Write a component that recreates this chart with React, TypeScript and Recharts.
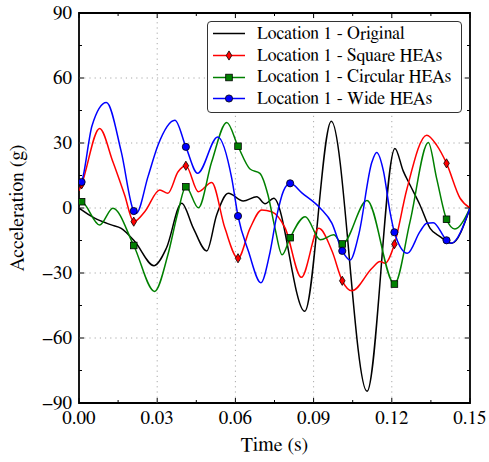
import React from "react";
import { LineChart, Line, XAxis, YAxis, ReferenceLine, ReferenceArea, Legend } from "recharts";

const FONT = "FreeSerif, 'Nimbus Roman', 'Noto Serif', 'Times New Roman', 'Liberation Serif', serif";
const TICK_SIZE = 19;
const LABEL_SIZE = 20;

// layout of the plot box (px)
const PLOT_TOP = 13;
const PLOT_BOTTOM = 403;
const PLOT_LEFT = 79;
const PLOT_RIGHT = 470;

const xTicks = [0, 0.015, 0.03, 0.045, 0.06, 0.075, 0.09, 0.105, 0.12, 0.135, 0.15];
const yTicks = [-90, -75, -60, -45, -30, -15, 0, 15, 30, 45, 60, 75, 90];
const xGrid = [0.03, 0.06, 0.09, 0.12];
const yGrid = [-60, -30, 0, 30, 60];

// times where the markers sit
const markerTimes = [0.001, 0.021, 0.041, 0.061, 0.081, 0.101, 0.121, 0.141];

const originalTime = [0, 0.001, 0.006, 0.0124, 0.0162, 0.0214, 0.0288, 0.0335, 0.0394, 0.0439, 0.049, 0.0528, 0.0573, 0.063, 0.0682, 0.0714, 0.0747, 0.0866, 0.0968, 0.1105, 0.1212, 0.1244, 0.127, 0.1308, 0.1347, 0.1385, 0.143, 0.15];
const originalAccel = [0, -0.9, -4.7, -7.8, -9.4, -15.5, -26.6, -18.6, 2.2, -9.4, -19.8, -3.2, 6.8, 3.2, 5.2, 2, 4.5, -47.7, 40, -84.6, 27.5, 17, 10.6, 1.4, -9.4, -13.2, -16.3, 0];

const squareTime = [0, 0.001, 0.0079, 0.013, 0.0175, 0.021, 0.0252, 0.031, 0.0341, 0.038, 0.041, 0.0458, 0.0509, 0.056, 0.061, 0.0656, 0.0701, 0.0739, 0.0791, 0.0853, 0.092, 0.0971, 0.101, 0.1047, 0.1124, 0.1155, 0.1174, 0.121, 0.1257, 0.1334, 0.1372, 0.141, 0.1462, 0.15];
const squareAccel = [8, 10.9, 36.7, 21.3, 6, -6.3, -1.7, 8.3, 6.8, 16.7, 19.5, 7.5, 11.8, -9.4, -23.2, -9.4, -0.9, -1.7, -9.3, -32, -9.4, -20, -33.6, -38.2, -27.8, -24.7, -25.5, -16.7, 8.3, 33.6, 29, 20.6, 4.5, 0];

const circularTime = [0, 0.001, 0.0079, 0.013, 0.021, 0.029, 0.0341, 0.038, 0.041, 0.0458, 0.0509, 0.0567, 0.061, 0.0656, 0.0694, 0.0725, 0.0752, 0.0779, 0.081, 0.0868, 0.0926, 0.0977, 0.101, 0.1105, 0.121, 0.127, 0.134, 0.1372, 0.141, 0.1442, 0.15];
const circularAccel = [3, 2.9, -7.8, -0.1, -17.3, -38.5, -21.6, -1.7, 9.8, 0.1, 21.3, 39.5, 28.5, 18, 16, 6, -9.4, -21.6, -13.7, -4, -14.7, -12.4, -16.6, 3.5, -35.1, -6.3, 30.2, 13.7, -5.2, -9.7, 0];

const wideTime = [0, 0.001, 0.005, 0.0105, 0.0162, 0.021, 0.022, 0.0265, 0.0303, 0.0368, 0.041, 0.0455, 0.0532, 0.0586, 0.061, 0.065, 0.0698, 0.073, 0.0758, 0.0785, 0.081, 0.0855, 0.0925, 0.097, 0.101, 0.104, 0.1073, 0.1124, 0.1142, 0.1168, 0.1193, 0.121, 0.126, 0.1308, 0.1334, 0.1359, 0.141, 0.1427, 0.15];
const wideAccel = [10, 12, 38, 48.7, 26, -1.4, -2.4, 14.6, 29, 40.5, 28.2, 16, 32.8, 13.7, -3.7, -20, -34.5, -22, -4, 8, 11.4, 7, 0, -7, -19.8, -24, -12.4, 21.3, 25.6, 17, -1.7, -11.2, -20.9, -10.9, -7, -6.8, -14.9, -16.3, 0];

type Pt = { t: number; v: number; mark: boolean };

const toPoints = (times: number[], vals: number[]): Pt[] =>
  times.map((t, i) => ({ t, v: vals[i], mark: markerTimes.some((m) => Math.abs(m - t) < 1e-9) }));

const series = [
  { name: "Location 1 - Original", color: "#000000", marker: "none", data: toPoints(originalTime, originalAccel) },
  { name: "Location 1 - Square HEAs", color: "#ff0000", marker: "diamond", data: toPoints(squareTime, squareAccel) },
  { name: "Location 1 - Circular HEAs", color: "#008000", marker: "square", data: toPoints(circularTime, circularAccel) },
  { name: "Location 1 - Wide HEAs", color: "#0000ff", marker: "circle", data: toPoints(wideTime, wideAccel) },
];

const drawMarker = (shape: string, cx: number, cy: number, color: string) => {
  if (shape === "diamond")
    return (
      <polygon
        points={`${cx},${cy - 4.6} ${cx + 2.8},${cy} ${cx},${cy + 4.6} ${cx - 2.8},${cy}`}
        fill={color}
        stroke="#000"
        strokeWidth={0.8}
      />
    );
  if (shape === "square")
    return <rect x={cx - 3.3} y={cy - 3.3} width={6.6} height={6.6} fill={color} stroke="#000" strokeWidth={0.8} />;
  if (shape === "circle") return <circle cx={cx} cy={cy} r={3.6} fill={color} stroke="#000" strokeWidth={0.8} />;
  return null;
};

const XTick = (props: any) => {
  const { x, y, payload, index } = props;
  const major = index % 2 === 0;
  const len = major ? 5 : 3;
  return (
    <g>
      <line x1={x} x2={x} y1={y} y2={y - len} stroke="#000" strokeWidth={1} />
      <line x1={x} x2={x} y1={PLOT_TOP} y2={PLOT_TOP + len} stroke="#000" strokeWidth={1} />
      {major && (
        <text x={x} y={y + 20.5} textAnchor="middle" style={{ fontFamily: FONT }} fontSize={TICK_SIZE} fill="#000">
          {payload.value.toFixed(2)}
        </text>
      )}
    </g>
  );
};

const YTick = (props: any) => {
  const { x, y, payload, index } = props;
  const major = index % 2 === 0;
  const len = major ? 5 : 3;
  const v = payload.value;
  return (
    <g>
      <line x1={x} x2={x + len} y1={y} y2={y} stroke="#000" strokeWidth={1} />
      <line x1={PLOT_RIGHT - len} x2={PLOT_RIGHT} y1={y} y2={y} stroke="#000" strokeWidth={1} />
      {major && (
        <text x={x - 7} y={y + 6.3} textAnchor="end" style={{ fontFamily: FONT }} fontSize={TICK_SIZE} fill="#000">
          {v < 0 ? `\u2212${Math.abs(v)}` : String(v)}
        </text>
      )}
    </g>
  );
};

// legend follows the plotting order, not the alphabetical one
const LegendBox = () => (
  <div
    style={{
      border: "1px solid #333",
      borderRadius: 4,
      background: "#fff",
      padding: "1px 6px 2px 4px",
      fontFamily: FONT,
      fontSize: 17.8,
      color: "#000",
    }}
  >
    {series.map((s) => (
      <div key={s.name} style={{ display: "flex", alignItems: "center", height: 21.7 }}>
        <svg width={34} height={21} style={{ flex: "none" }}>
          <line x1={1} x2={33} y1={10.5} y2={10.5} stroke={s.color} strokeWidth={1.5} />
          {drawMarker(s.marker, 17, 10.5, s.color)}
        </svg>
        <span style={{ marginLeft: 11, whiteSpace: "nowrap" }}>{s.name}</span>
      </div>
    ))}
  </div>
);

export default function App() {
  return (
    <div style={{ position: "absolute", left: 0, top: 0, background: "#fff" }}>
      <LineChart width={489} height={462} margin={{ top: PLOT_TOP, right: 489 - PLOT_RIGHT, bottom: 0, left: 0 }}>
        <XAxis
          dataKey="t"
          type="number"
          domain={[0, 0.15]}
          ticks={xTicks}
          interval={0}
          allowDataOverflow
          height={462 - PLOT_BOTTOM}
          tickSize={0}
          tickMargin={0}
          tickLine={false}
          axisLine={false}
          tick={(p: any) => <XTick {...p} />}
          label={{
            content: (p: any) => {
              const vb = p.viewBox || {};
              return (
                <text x={vb.x + vb.width / 2} y={vb.y + 48} textAnchor="middle" style={{ fontFamily: FONT }} fontSize={LABEL_SIZE} fill="#000">
                  Time (s)
                </text>
              );
            },
          }}
        />
        <YAxis
          type="number"
          domain={[-90, 90]}
          ticks={yTicks}
          interval={0}
          allowDataOverflow
          width={PLOT_LEFT}
          tickSize={0}
          tickMargin={0}
          tickLine={false}
          axisLine={false}
          tick={(p: any) => <YTick {...p} />}
          label={{
            content: (p: any) => {
              const vb = p.viewBox || {};
              const cy = vb.y + vb.height / 2;
              return (
                <text
                  x={23}
                  y={cy}
                  transform={`rotate(-90 23 ${cy})`}
                  textAnchor="middle"
                  style={{ fontFamily: FONT }}
                  fontSize={LABEL_SIZE}
                  fill="#000"
                >
                  Acceleration (g)
                </text>
              );
            },
          }}
        />
        {xGrid.map((g) => (
          <ReferenceLine key={`x${g}`} x={g} stroke="#a8a8a8" strokeDasharray="1.2 4" strokeWidth={1} />
        ))}
        {yGrid.map((g) => (
          <ReferenceLine key={`y${g}`} y={g} stroke="#a8a8a8" strokeDasharray="1.2 4" strokeWidth={1} />
        ))}
        {series.map((s) => (
          <Line
            key={s.name}
            name={s.name}
            data={s.data}
            dataKey="v"
            type="monotone"
            stroke={s.color}
            strokeWidth={1.5}
            isAnimationActive={false}
            activeDot={false}
            dot={
              s.marker === "none"
                ? false
                : (p: any) =>
                    p.payload && p.payload.mark ? (
                      <g key={`m${p.index}`}>{drawMarker(s.marker, p.cx, p.cy, s.color)}</g>
                    ) : (
                      <g key={`m${p.index}`} />
                    )
            }
          />
        ))}
        <ReferenceArea x1={0} x2={0.15} y1={-90} y2={90} fill="none" fillOpacity={0} stroke="#000" strokeWidth={1.8} />
        <Legend
          layout="vertical"
          align="center"
          verticalAlign="middle"
          wrapperStyle={{ left: 207, top: 21, width: 255 }}
          content={() => <LegendBox />}
        />
      </LineChart>
    </div>
  );
}
